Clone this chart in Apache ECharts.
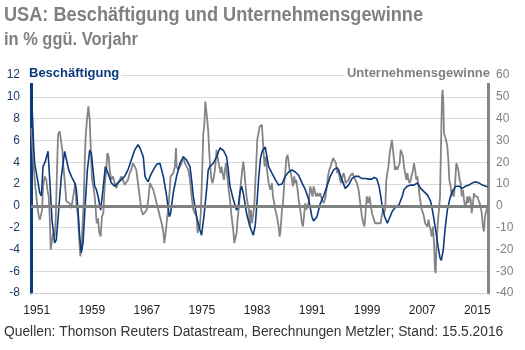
<!DOCTYPE html>
<html>
<head>
<meta charset="utf-8">
<script src="https://cdn.jsdelivr.net/npm/echarts@6/dist/echarts.min.js"></script>
<style>
html,body{margin:0;padding:0;background:#fff;}
#chart{width:525px;height:350px;}
</style>
</head>
<body>
<div id="chart"></div>
<script>
// Tick labels
const xTickYears = [1951, 1959, 1967, 1975, 1983, 1991, 1999, 2007, 2015];

// Beschäftigung (left axis, % yoy) – years and values
const empYears = [1950.2,1950.37,1950.56,1950.7,1950.95,1951.2,1951.43,1951.68,1951.92,1952.26,1952.64,1952.89,1953.22,1953.61,1953.85,1954.19,1954.58,1955.06,1955.3,1955.65,1956.03,1956.52,1956.76,1957.0,1957.24,1957.48,1957.73,1957.97,1958.36,1958.7,1958.94,1959.18,1959.42,1959.66,1959.9,1960.29,1960.63,1960.97,1961.36,1961.84,1962.33,1962.81,1963.29,1963.78,1964.26,1964.74,1965.23,1965.71,1966.0,1966.48,1966.73,1966.97,1967.2,1967.45,1967.94,1968.42,1968.9,1969.15,1969.39,1969.87,1970.26,1970.45,1970.84,1971.32,1971.81,1972.29,1972.78,1973.26,1973.5,1973.74,1974.23,1974.71,1974.95,1975.29,1975.68,1975.92,1976.16,1976.65,1977.13,1977.62,1978.1,1978.58,1978.83,1979.07,1979.55,1980.04,1980.28,1980.52,1980.76,1981.0,1981.49,1981.97,1982.46,1982.75,1983.0,1983.25,1983.5,1983.75,1984.2,1984.69,1985.17,1985.66,1986.14,1986.63,1987.11,1987.6,1988.08,1988.56,1989.05,1989.53,1990.01,1990.5,1990.98,1991.22,1991.71,1992.19,1992.68,1993.16,1993.64,1994.13,1994.61,1994.85,1995.34,1995.82,1996.31,1996.79,1997.27,1997.76,1998.24,1998.73,1999.21,1999.69,2000.0,2000.39,2000.73,2000.97,2001.21,2001.55,2001.94,2002.18,2002.66,2003.15,2003.63,2004.12,2004.36,2004.84,2005.33,2005.81,2006.29,2006.78,2007.26,2007.75,2008.23,2008.57,2008.96,2009.3,2009.59,2009.78,2010.07,2010.31,2010.65,2011.04,2011.38,2011.86,2012.34,2012.83,2013.31,2013.8,2014.28,2014.76,2015.25,2015.73,2016.22,2016.5];
const empValues = [9.9,8.5,5.4,3.9,3.0,2.1,1.2,0.9,3.6,4.1,5.0,2.4,-1.3,-3.4,-3.1,-0.4,2.7,5.0,5.0,3.3,2.7,2.1,1.5,-0.4,-2.8,-4.3,-3.4,-0.7,3.3,5.1,4.8,3.3,1.8,1.5,0.9,-0.4,1.5,3.6,3.0,2.1,1.8,2.1,2.4,2.7,3.3,4.2,5.1,5.6,5.3,4.5,2.7,2.4,2.2,2.7,3.3,3.8,3.9,3.8,2.7,0.9,-1.0,-0.7,1.2,2.7,3.9,4.5,4.2,3.6,2.4,0.9,-1.0,-2.2,-2.7,-1.0,1.5,3.3,3.6,3.9,4.5,5.3,5.1,4.5,3.3,1.8,0.6,-0.4,-0.1,1.2,1.8,1.2,-0.7,-1.9,-2.7,-1.8,0.3,2.6,4.3,5.0,5.4,3.6,3.0,2.4,1.9,2.0,2.7,3.1,3.3,3.1,2.8,2.1,1.5,0.6,-1.0,-1.4,-1.0,0.2,0.9,1.8,2.7,3.3,3.5,3.3,2.4,1.6,1.9,2.5,2.7,2.7,2.5,2.5,2.45,2.45,2.6,2.5,1.8,0.9,-0.1,-1.0,-1.6,-1.5,-0.5,-0.1,0.1,0.9,1.5,1.8,1.9,1.9,2.1,1.6,1.3,1.0,0.4,-0.7,-2.2,-3.7,-4.8,-5.0,-4.0,-2.2,-0.4,0.7,1.3,1.8,1.8,1.6,1.8,1.9,2.1,2.2,2.1,1.9,1.8,1.75];

// Unternehmensgewinne (right axis, % yoy) – years and values
const profYears = [1950.2,1950.35,1950.47,1950.6,1950.7,1950.95,1951.1,1951.3,1951.45,1951.68,1951.78,1951.92,1952.16,1952.4,1952.55,1952.74,1952.89,1953.03,1953.22,1953.37,1953.61,1953.76,1953.95,1954.1,1954.34,1954.58,1954.72,1954.82,1955.06,1955.3,1955.55,1955.79,1956.03,1956.27,1956.42,1956.61,1956.76,1957.0,1957.15,1957.34,1957.48,1957.63,1957.82,1957.97,1958.11,1958.3,1958.5,1958.7,1958.84,1959.03,1959.23,1959.42,1959.57,1959.71,1959.9,1960.1,1960.29,1960.48,1960.68,1960.87,1961.1,1961.26,1961.45,1961.6,1961.84,1962.08,1962.33,1962.57,1962.81,1963.05,1963.29,1963.53,1963.78,1964.0,1964.26,1964.5,1964.74,1964.98,1965.23,1965.47,1965.71,1965.95,1966.2,1966.44,1966.68,1967.0,1967.21,1967.45,1967.69,1967.94,1968.18,1968.42,1968.66,1968.9,1969.15,1969.39,1969.53,1969.63,1969.78,1969.97,1970.11,1970.26,1970.45,1970.6,1970.84,1971.08,1971.23,1971.32,1971.56,1971.81,1972.05,1972.29,1972.53,1972.78,1973.02,1973.26,1973.5,1973.74,1973.98,1974.23,1974.37,1974.52,1974.71,1974.86,1975.0,1975.2,1975.34,1975.49,1975.63,1975.78,1975.92,1976.07,1976.21,1976.4,1976.55,1976.75,1976.94,1977.13,1977.37,1977.52,1977.71,1977.85,1978.0,1978.2,1978.34,1978.49,1978.68,1978.88,1979.07,1979.31,1979.55,1979.7,1979.89,1980.04,1980.18,1980.33,1980.52,1980.76,1981.0,1981.15,1981.3,1981.49,1981.63,1981.83,1981.97,1982.12,1982.27,1982.45,1982.6,1982.75,1982.9,1983.04,1983.24,1983.4,1983.58,1983.72,1983.85,1983.96,1984.1,1984.3,1984.45,1984.69,1984.93,1985.17,1985.32,1985.51,1985.66,1985.9,1986.14,1986.29,1986.43,1986.63,1986.78,1986.96,1987.11,1987.26,1987.45,1987.6,1987.74,1987.93,1988.08,1988.23,1988.42,1988.56,1988.71,1988.9,1989.05,1989.29,1989.53,1989.68,1989.82,1990.01,1990.16,1990.3,1990.5,1990.74,1990.89,1991.08,1991.22,1991.37,1991.56,1991.76,1991.95,1992.19,1992.43,1992.68,1992.92,1993.16,1993.31,1993.5,1993.69,1993.89,1994.08,1994.27,1994.47,1994.66,1994.85,1995.05,1995.24,1995.43,1995.58,1995.72,1995.87,1996.06,1996.31,1996.5,1996.69,1996.89,1997.03,1997.27,1997.52,1997.76,1998.0,1998.24,1998.45,1998.62,1998.8,1998.95,1999.18,1999.35,1999.52,1999.7,1999.86,2000.0,2000.15,2000.34,2000.49,2000.73,2000.97,2001.12,2001.3,2001.45,2001.62,2001.79,2001.94,2002.1,2002.28,2002.42,2002.6,2002.76,2002.91,2003.05,2003.24,2003.39,2003.55,2003.73,2003.87,2004.05,2004.21,2004.36,2004.5,2004.7,2004.84,2005.0,2005.18,2005.33,2005.5,2005.66,2005.81,2005.97,2006.15,2006.29,2006.45,2006.63,2006.78,2006.95,2007.12,2007.26,2007.43,2007.6,2007.75,2007.92,2008.09,2008.23,2008.38,2008.57,2008.72,2008.86,2008.96,2009.1,2009.3,2009.44,2009.59,2009.78,2009.88,2009.97,2010.07,2010.17,2010.31,2010.46,2010.65,2010.8,2010.94,2011.13,2011.28,2011.47,2011.62,2011.78,2011.96,2012.1,2012.25,2012.44,2012.59,2012.75,2012.92,2013.07,2013.22,2013.41,2013.55,2013.7,2013.89,2014.04,2014.19,2014.38,2014.52,2014.67,2014.86,2015.01,2015.16,2015.35,2015.49,2015.64,2015.83,2015.97,2016.12,2016.26,2016.46];
const profValues = [35.6,35.6,22.6,16.5,12,4.3,-0.3,-4.9,-6.4,-7.2,-2,8.9,13.5,11.9,7.3,4.3,-4.9,-20.2,-19.4,-12.5,-14.1,-6.4,16.5,32.6,34.1,28.7,25.7,19.6,11.9,2.0,1.2,1.2,-1.1,-1.8,6.6,10.4,1.2,-4.9,-14.1,-23.2,-20.2,-11,1.2,19.6,31.8,39.4,45.6,39.4,27.2,11.9,8.9,4.3,-1.8,-8.0,-5.7,-12.5,-14.1,-4.9,-3.4,8.9,16.5,24.2,22.6,16.5,11.9,13.5,10.4,8.1,10.4,11.9,13.5,11.9,9.6,10.4,11.9,15,16.5,19.6,20.3,16.5,10.4,4.3,-1.8,-4.1,-4.1,-1.8,2.8,10.4,9.6,7.3,4.3,1.2,-1.8,-4.9,-8.0,-11.8,-17.1,-17.9,-11,-4.9,-1.8,4.3,13.5,12.7,15,18,26.5,18,16.5,18,19.6,22.6,19.6,18,16.5,11.9,4.3,-1.8,-3.4,-4.9,-12.5,-11,-9.5,-1.8,11.9,33.3,36.4,47.9,48.6,39.4,34.1,24.2,18,11.9,10.4,13.5,18,25.7,25.7,18,15,18,15,11.9,16.5,19.6,13.5,7.3,2.8,-4.9,-11,-17.1,-17.9,-12.5,-6.4,-1.8,5.8,13.5,20.3,16.5,10.4,4.3,1.2,-1.8,-9.5,-1.8,-8,-4,-0.3,10.4,19.6,30.3,30.3,36.4,37.2,37.2,36.4,24.2,18,22.6,16.5,10.4,7.3,10.4,4.3,1.2,-1.8,-4.9,-9.5,-14.1,-11,-1.8,1.2,10.4,15,21.9,23.4,22.6,16.5,15,11.9,8.9,13.5,10.4,11.9,7.3,2.8,-1.8,-8,-9.5,-4.9,1.2,-1.8,-0.3,1.2,8.9,9.6,4.3,8.9,7.3,4.3,5.8,4.3,5.8,2.8,1.2,3.4,8.9,13.5,16.5,18,20.3,21.9,21.1,19.6,15,16.5,11.9,10.4,13.5,15,13.5,10.4,10.4,11.9,13.5,13.5,15,13.5,13.5,10.4,7.3,1.2,-4.9,-8,-9.5,-2,4.3,1.2,4.3,3.5,-3.4,-4.9,-4.9,-8,-8,-8,-8.8,-8,-4.9,-1.8,-3.4,-1.8,11.9,15,18,24.2,24.2,30.3,30.3,21.1,16.5,18,16.5,18,19.6,25.7,24.2,22.6,18,18,11.9,15,11.9,10.4,11.9,11.9,16.5,19.6,16.5,11.9,13.5,9.6,4.3,1.2,-1.8,-3.4,-4.9,-8,-8,-9.5,-6.4,-9.5,-11,-14.1,-9.5,-17.1,-29.4,-30.9,-17.1,-6.4,-1.8,4.3,34.9,50.2,53.2,47.1,33.3,31.8,30.3,27.2,21.1,11.9,8.9,4.3,7.3,4.3,10.4,19.6,20.3,16.5,11.9,10.4,4.3,7.3,2.8,-0.3,1.2,4.3,1.2,4.3,2.8,-3.4,1.2,5.8,4.3,5.0,4.3,2.8,1.2,-0.3,-3.4,-9.5,-11.8,-4.9,-4.9,-0.3];

const TITLE = 'USA: Beschäftigung und Unternehmensgewinne';
const SUBTITLE = 'in % ggü. Vorjahr';
const FOOTNOTE = 'Quellen: Thomson Reuters Datastream, Berechnungen Metzler; Stand: 15.5.2016';

const BLUE = '#0b3a7e';
const GRAY = '#858585';
const FONT = "'Liberation Sans', Arial, sans-serif";

const empData = empYears.map((y, i) => [y, empValues[i]]);
const profData = profYears.map((y, i) => [y, profValues[i]]);

// horizontal compression so the bold title looks like the condensed original
const measureCtx = document.createElement('canvas').getContext('2d');
function fitScale(text, font, targetWidth) {
  measureCtx.font = font;
  const w = measureCtx.measureText(text).width;
  return w > 0 ? targetWidth / w : 1;
}
const titleFont = "bold 20px 'Liberation Sans', Arial, sans-serif";
const subFont = "bold 18px 'Liberation Sans', Arial, sans-serif";
const titleScale = fitScale(TITLE, titleFont, 419);
const subScale = fitScale(SUBTITLE, subFont, 134);

const chart = echarts.init(document.getElementById('chart'), null, {renderer: 'canvas'});
chart.setOption({
  animation: false,
  backgroundColor: '#fff',
  graphic: [
    {type: 'text', x: 4, y: 15.5, scaleX: titleScale, scaleY: 1, z: 10,
     style: {text: TITLE, font: titleFont, fill: '#808080', verticalAlign: 'middle', align: 'left'}},
    {type: 'text', x: 4, y: 40.5, scaleX: subScale, scaleY: 1, z: 10,
     style: {text: SUBTITLE, font: subFont, fill: '#808080', verticalAlign: 'middle', align: 'left'}}
  ],
  title: [
    {text: 'Beschäftigung', left: 28, top: 66, padding: [1, 2, 3, 1], backgroundColor: '#fff',
     textStyle: {fontFamily: FONT, fontWeight: 'bold', fontSize: 13, color: BLUE}},
    {text: 'Unternehmensgewinne', right: 34, top: 66, padding: [1, 1, 3, 2], backgroundColor: '#fff',
     textStyle: {fontFamily: FONT, fontWeight: 'bold', fontSize: 13, color: '#808080'}},
    {text: FOOTNOTE, left: 4, top: 325, padding: 0,
     textStyle: {fontFamily: FONT, fontWeight: 'normal', fontSize: 13.8, color: '#333'}}
  ],
  grid: {left: 31, right: 37, top: 75, bottom: 57, containLabel: false},
  xAxis: {
    type: 'value', min: 1950.17, max: 2016.56,
    axisLine: {show: true, onZero: false, lineStyle: {color: '#cfcfcf', width: 1}},
    axisTick: {show: false},
    splitLine: {show: false},
    axisLabel: {customValues: xTickYears, margin: 12, fontFamily: FONT, fontSize: 12, color: '#222',
                formatter: v => String(v)}
  },
  yAxis: [
    {type: 'value', min: -8, max: 12, interval: 2, position: 'left',
     axisLine: {show: true, lineStyle: {color: BLUE, width: 3}},
     axisTick: {show: false},
     splitLine: {show: true, lineStyle: {color: '#d9d9d9', width: 1}},
     axisLabel: {margin: 11, fontFamily: FONT, fontSize: 12, color: '#1f3a6b'}},
    {type: 'value', min: -40, max: 60, interval: 10, position: 'right',
     axisLine: {show: true, lineStyle: {color: GRAY, width: 3}},
     axisTick: {show: false},
     splitLine: {show: false},
     axisLabel: {margin: 8, fontFamily: FONT, fontSize: 12, color: '#808080'}}
  ],
  series: [
    {type: 'line', name: 'Unternehmensgewinne', yAxisIndex: 1, data: profData,
     showSymbol: false, symbol: 'none', lineStyle: {color: GRAY, width: 1.8}, z: 2,
     markLine: {silent: true, symbol: 'none', label: {show: false},
                lineStyle: {color: '#808080', width: 3, type: 'solid'},
                data: [{yAxis: 0}]}},
    {type: 'line', name: 'Beschäftigung', yAxisIndex: 0, data: empData,
     showSymbol: false, symbol: 'none', lineStyle: {color: BLUE, width: 1.6}, z: 3}
  ]
});
</script>
</body>
</html>
